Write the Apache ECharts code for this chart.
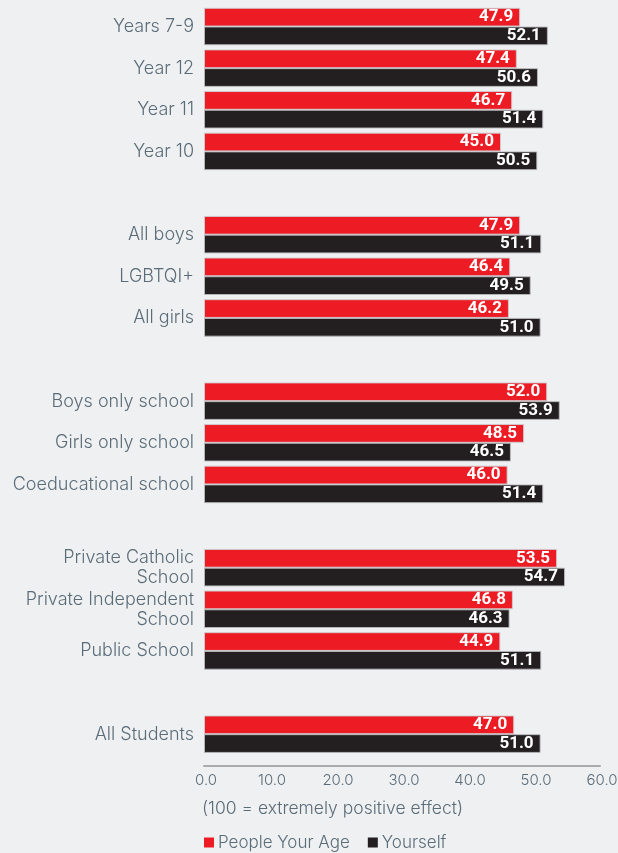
<!DOCTYPE html>
<html>
<head>
<meta charset="utf-8">
<script src="https://cdn.jsdelivr.net/npm/echarts@6/dist/echarts.min.js"></script>
<style>
  html, body { margin: 0; padding: 0; background: #eff0f2; }
  #chart { width: 618px; height: 853px; }
</style>
</head>
<body>
<div id="chart"></div>
<script>
// Groups are separated by blank spacer rows
const categories = [
  'Years 7-9', 'Year 12', 'Year 11', 'Year 10', ' ',
  'All boys', 'LGBTQI+', 'All girls', '  ',
  'Boys only school', 'Girls only school', 'Coeducational school', '   ',
  'Private Catholic\nSchool', 'Private Independent\nSchool', 'Public School', '    ',
  'All Students'
];
const peopleYourAge = [47.9, 47.4, 46.7, 45.0, null, 47.9, 46.4, 46.2, null, 52.0, 48.5, 46.0, null, 53.5, 46.8, 44.9, null, 47.0];
const yourself      = [52.1, 50.6, 51.4, 50.5, null, 51.1, 49.5, 51.0, null, 53.9, 46.5, 51.4, null, 54.7, 46.3, 51.1, null, 51.0];
const seriesNames = ['People Your Age', 'Yourself'];
const axisTicks = { min: 0, max: 60, interval: 10 };
const axisCaption = '(100 = extremely positive effect)';

const slate = '#5a6c78';
const chart = echarts.init(document.getElementById('chart'), null, { renderer: 'canvas' });

const valueLabel = {
  show: true,
  position: 'insideRight',
  distance: 7,
  color: '#ffffff',
  fontFamily: 'Roboto',
  fontWeight: 'bold',
  fontSize: 17,
  formatter: p => (p.value == null ? '' : Number(p.value).toFixed(1))
};

chart.setOption({
  backgroundColor: '#eff0f2',
  animation: false,
  title: {
    text: axisCaption,
    left: 202,
    top: 800,
    padding: 0,
    textStyle: { color: slate, fontFamily: 'Inter', fontWeight: 300, fontSize: 17.5 }
  },
  legend: {
    data: seriesNames,
    left: 204,
    top: 834,
    padding: 0,
    icon: 'rect',
    itemWidth: 10,
    itemHeight: 10,
    itemGap: 18,
    itemStyle: { borderWidth: 0 },
    textStyle: { color: slate, fontFamily: 'Inter', fontWeight: 300, fontSize: 17, padding: [0, 0, 0, -1] }
  },
  grid: {
    left: 204,
    right: 18,
    top: 5.7,
    bottom: 98,
    outerBoundsMode: 'none'
  },
  xAxis: {
    type: 'value',
    min: axisTicks.min,
    max: axisTicks.max,
    interval: axisTicks.interval,
    offset: 11,
    axisLine: { show: true, lineStyle: { color: '#a9abad', width: 2 } },
    axisTick: { show: false },
    splitLine: { show: false },
    axisLabel: {
      color: slate,
      fontFamily: 'Inter',
      fontWeight: 300,
      fontSize: 15,
      margin: 7,
      padding: [0, 0, 0, 4],
      formatter: v => v.toFixed(1)
    }
  },
  yAxis: {
    type: 'category',
    data: categories,
    inverse: true,
    axisLine: { show: false },
    axisTick: { show: false },
    axisLabel: {
      color: slate,
      fontFamily: 'Inter',
      fontWeight: 300,
      fontSize: 18,
      lineHeight: 20,
      margin: 10,
      align: 'right',
      padding: [3, 0, 0, 0]
    }
  },
  series: [
    {
      name: seriesNames[0],
      type: 'bar',
      data: peopleYourAge,
      barGap: '0%',
      barCategoryGap: '10%',
      itemStyle: { color: '#ed1c24', borderColor: 'rgba(205,205,208,0.9)', borderWidth: 1 },
      label: valueLabel
    },
    {
      name: seriesNames[1],
      type: 'bar',
      data: yourself,
      barGap: '0%',
      barCategoryGap: '10%',
      itemStyle: { color: '#231f20', borderColor: 'rgba(185,185,188,0.9)', borderWidth: 1 },
      label: valueLabel
    }
  ]
});
</script>
</body>
</html>
